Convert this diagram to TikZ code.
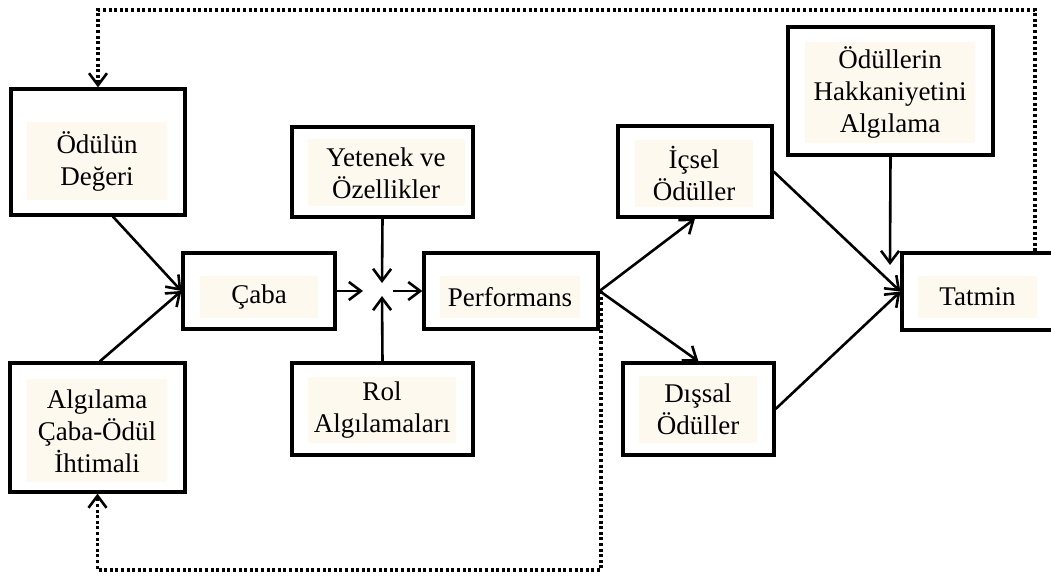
\documentclass[tikz,border=0pt]{standalone}
\usepackage{fontspec}
\setmainfont{Liberation Serif}
\usetikzlibrary{arrows.meta}
\definecolor{krem}{RGB}{253,249,238}

\begin{document}
\begin{tikzpicture}[x=0.5pt, y=-0.5pt,
    kutu/.style={draw, line width=1.6pt, rectangle, inner sep=0pt},
    zemin/.style={fill=krem, inner sep=0pt, align=center, font=\fontsize{13.5}{16}\selectfont},
    ok/.style={-{Straight Barb[length=6pt, width=9pt, line width=1.3pt]}, line width=1.3pt},
    geri/.style={ok, dash pattern=on 1.5pt off 1.3pt, line width=1.8pt}]
    \useasboundingbox (0,0) rectangle (1051,577);

    % kutular
    \node[kutu, minimum width=87pt, minimum height=63pt] (odul) at (98,152) {};
    \node[zemin, minimum width=70pt, minimum height=39pt] (odulyazi) at (97,161) {Ödülün\\Değeri};
    \node[kutu, minimum width=87.5pt, minimum height=64.5pt] (ihtimal) at (97.5,427.5) {};
    \node[zemin, minimum width=70pt, minimum height=51.5pt] (ihtimalyazi) at (97,431) {Algılama\\Çaba-Ödül\\İhtimali};
    \node[kutu, minimum width=76pt, minimum height=38pt] (caba) at (259,291) {};
    \node[zemin, minimum width=59pt, minimum height=21pt] (cabayazi) at (259,297) {Çaba};
    \node[kutu, minimum width=90.5pt, minimum height=45pt] (yetenek) at (382.5,172) {};
    \node[zemin, minimum width=78.5pt, minimum height=33.5pt] (yetenekyazi) at (386,173) {Yetenek ve\\Özellikler};
    \node[kutu, minimum width=90.5pt, minimum height=46pt] (rol) at (382.5,409) {};
    \node[zemin, minimum width=74pt, minimum height=33pt] (rolyazi) at (382,410) {Rol\\Algılamaları};
    \node[kutu, minimum width=87pt, minimum height=38pt] (perf) at (511,291) {};
    \node[zemin, minimum width=70pt, minimum height=21pt] (perfyazi) at (510,297) {Performans};
    \node[kutu, minimum width=77pt, minimum height=45.5pt] (icsel) at (695,171.5) {};
    \node[zemin, minimum width=59pt, minimum height=33.5pt] (icselyazi) at (694,173.5) {İçsel\\Ödüller};
    \node[kutu, minimum width=75.5pt, minimum height=46pt] (dissal) at (698.5,409) {};
    \node[zemin, minimum width=59pt, minimum height=33.5pt] (dissalyazi) at (698,409.5) {Dışsal\\Ödüller};
    \node[kutu, minimum width=102.5pt, minimum height=64pt] (hakk) at (890.5,91) {};
    \node[zemin, minimum width=85pt, minimum height=50.5pt] (hakkyazi) at (890,92.5) {Ödüllerin\\Hakkaniyetini\\Algılama};
    \node[kutu, minimum width=79pt, minimum height=38.5pt] (tatmin) at (981,291.5) {};
    \node[zemin, minimum width=59.5pt, minimum height=21pt] (tatminyazi) at (977.5,297) {Tatmin};

    % kavsak
    \coordinate (kavsol) at (363,291);
    \coordinate (kavsag) at (393,291);
    \coordinate (kavust) at (382,283);
    \coordinate (kavalt) at (382,296);
    \coordinate (hakkuc) at (890,265);
    \coordinate (ustsag) at (1035,10);
    \coordinate (altsag) at (601,570);

    % oklar
    \draw[ok] (odul.-77) -- (caba.west);
    \draw[ok] (ihtimal.88) -- (caba.west);
    \draw[ok] (caba.east) -- (kavsol);
    \draw[ok] (yetenek.south) -- (kavust);
    \draw[ok] (rol.north) -- (kavalt);
    \draw[ok] (kavsag) -- (perf.west);
    \draw[ok] (perf.east) -- (icsel.south);
    \draw[ok] (perf.east) -- (dissal.north);
    \draw[ok] (icsel.east) -- (tatmin.west);
    \draw[ok] (dissal.east) -- (tatmin.west);
    \draw[ok] (hakk.south) -- (hakkuc);

    % geri besleme
    \draw[geri] (ustsag |- tatmin.north) -- (ustsag) -- (ustsag -| odul.north) -- (odul.north);
    \draw[geri] (perf.east -| altsag) -- (altsag) -- (altsag -| ihtimal.south) -- (ihtimal.south);
\end{tikzpicture}
\end{document}
